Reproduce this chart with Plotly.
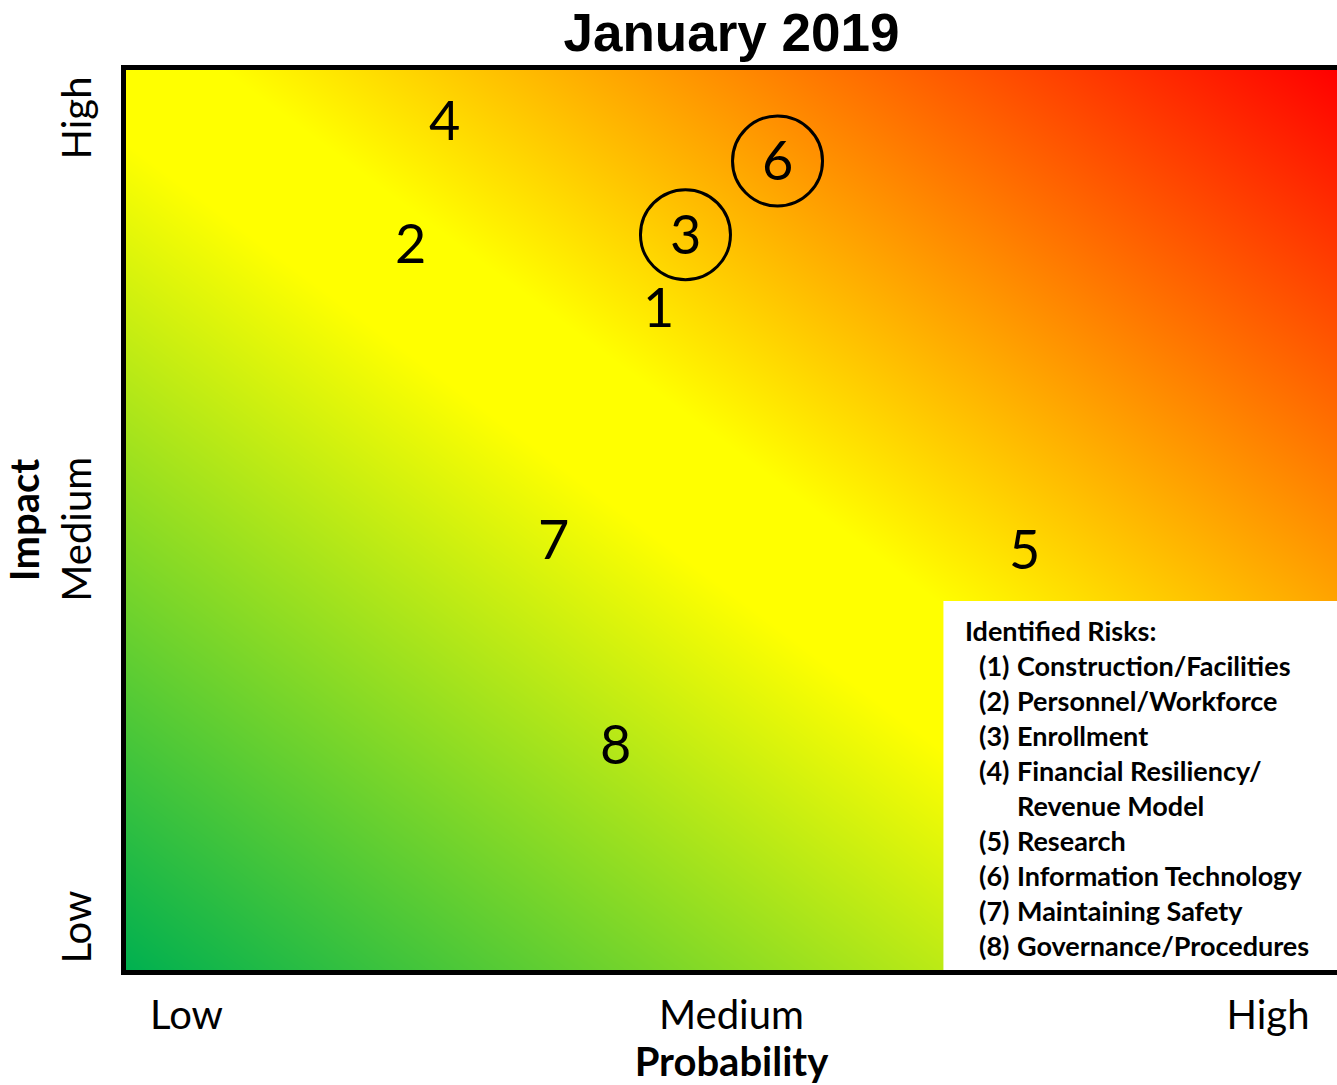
import numpy as np
import plotly.graph_objects as go

# ---- chart content ----
title_text = "January 2019"
x_title = "Probability"
y_title = "Impact"

x_tick_labels = ["Low", "Medium", "High"]
x_tick_pos = [0.05, 0.5, 0.943]
y_tick_labels = ["Low", "Medium", "High"]
y_tick_pos = [0.041, 0.483, 0.940]

# risk markers: id, probability (x), impact (y), circled or not
risk_ids = [1, 2, 3, 4, 5, 6, 7, 8]
risk_prob = [0.440, 0.235, 0.462, 0.263, 0.742, 0.538, 0.353, 0.404]
risk_impact = [0.736, 0.807, 0.817, 0.944, 0.467, 0.899, 0.478, 0.251]
risk_circled = [False, False, True, False, False, True, False, False]

legend_heading = "Identified Risks:"
risk_names = [
    "Construction/Facilities",
    "Personnel/Workforce",
    "Enrollment",
    "Financial Resiliency/\nRevenue Model",
    "Research",
    "Information Technology",
    "Maintaining Safety",
    "Governance/Procedures",
]

# ---- style ----
LABEL_FONT = "Lato"
GREEN = "rgb(0,176,80)"
YELLOW = "rgb(255,255,0)"
RED = "rgb(255,0,0)"

W, H = 1337, 1085
M_L, M_R, M_T, M_B = 126, 0, 70, 115

fig = go.Figure()

# diagonal green -> yellow -> red background
grid = np.linspace(0, 1, 51)
gx, gy = np.meshgrid(grid, grid)
fig.add_trace(go.Heatmap(
    x=grid, y=grid, z=(gx + gy) / 2,
    zmin=0, zmax=1, zsmooth="best",
    colorscale=[[0, GREEN], [0.46, YELLOW], [0.54, YELLOW], [1, RED]],
    showscale=False, hoverinfo="skip",
))

# circles around highlighted risks
cx = [p for p, c in zip(risk_prob, risk_circled) if c]
cy = [q for q, c in zip(risk_impact, risk_circled) if c]
fig.add_trace(go.Scatter(
    x=cx, y=cy, mode="markers",
    marker=dict(symbol="circle-open", size=90, color="black",
                line=dict(width=3, color="black")),
    hoverinfo="skip", showlegend=False,
))

# risk numbers
for rid, px, py in zip(risk_ids, risk_prob, risk_impact):
    fig.add_annotation(x=px, y=py, xref="x", yref="y", text=str(rid),
                       showarrow=False, xanchor="center", yanchor="middle",
                       yshift=1,
                       font=dict(family=LABEL_FONT, size=54, color="black"))

# white key box in the lower-right corner
box_x0, box_y1 = 0.675, 0.41
fig.add_shape(type="rect", xref="paper", yref="paper",
              x0=box_x0, x1=1.0, y0=0, y1=box_y1,
              fillcolor="white", line=dict(width=0), layer="above")

row_h = 35 / (H - M_T - M_B)
key_font = dict(family=LABEL_FONT, size=27, color="black", weight="bold")
fig.add_annotation(xref="paper", yref="paper", x=0.6912, y=0.3767,
                   xanchor="left", yanchor="middle", showarrow=False,
                   text=legend_heading, font=key_font)
row = 1
for rid, name in zip(risk_ids, risk_names):
    fig.add_annotation(xref="paper", yref="paper", x=0.7027,
                       y=0.3767 - row * row_h,
                       xanchor="left", yanchor="middle", showarrow=False,
                       text=f"({rid})", font=key_font)
    parts = name.split("\n")
    for k, part in enumerate(parts):
        fig.add_annotation(xref="paper", yref="paper", x=0.7345,
                           y=0.3767 - (row + k) * row_h,
                           xanchor="left", yanchor="middle", showarrow=False,
                           text=part, font=key_font)
    row += len(parts)

axis_common = dict(
    range=[0, 1], showgrid=False, zeroline=False,
    showline=True, linewidth=5, linecolor="black",
    ticks="", fixedrange=True,
    tickfont=dict(family=LABEL_FONT, size=40, color="black"),
)

fig.update_layout(
    width=W, height=H,
    margin=dict(l=M_L, r=M_R, t=M_T, b=M_B),
    paper_bgcolor="white", plot_bgcolor="white",
    showlegend=False,
    title=dict(text=title_text, x=0.5, xref="paper", xanchor="center",
               y=1 - 32 / H, yref="container", yanchor="middle",
               font=dict(family="Liberation Sans", size=53, color="black",
                         weight="bold")),
    xaxis=dict(**axis_common, mirror=True,
               tickvals=x_tick_pos, ticktext=x_tick_labels,
               ticklabelstandoff=6,
               title=dict(text=x_title, standoff=9,
                          font=dict(family=LABEL_FONT, size=40,
                                    color="black", weight="bold"))),
    yaxis=dict(**axis_common, mirror=False, tickangle=-90,
               tickvals=y_tick_pos, ticktext=y_tick_labels,
               ticklabelstandoff=14,
               title=dict(text=y_title, standoff=2,
                          font=dict(family=LABEL_FONT, size=40,
                                    color="black", weight="bold"))),
)

fig.write_html("out.html")
